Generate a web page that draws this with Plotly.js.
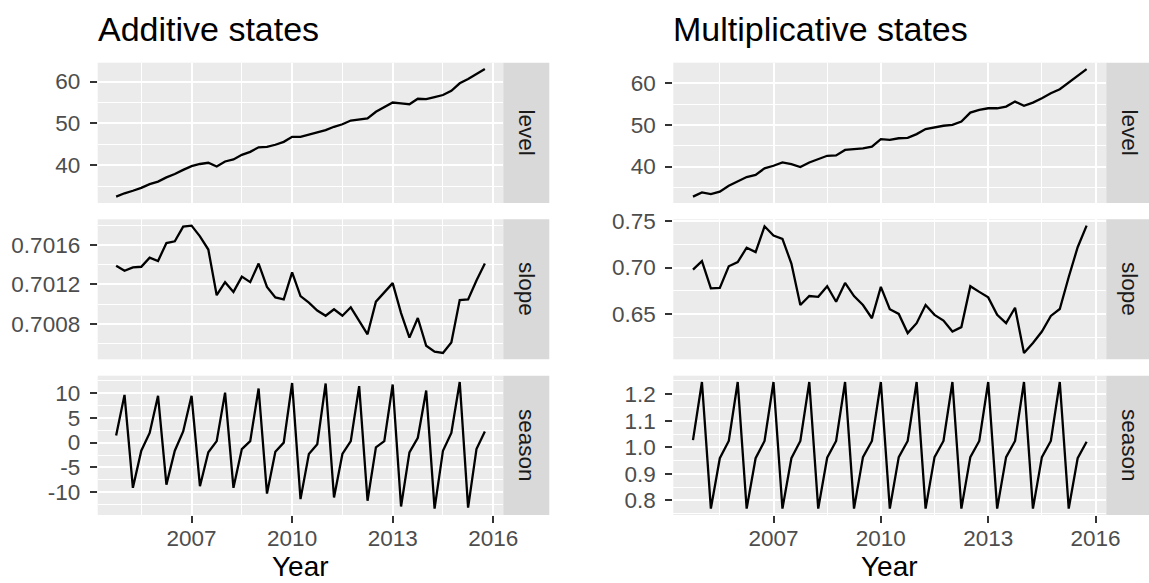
<!DOCTYPE html>
<html>
<head>
<meta charset="utf-8">
<script src="https://cdn.plot.ly/plotly-3.0.1.min.js"></script>
<style>html,body{margin:0;padding:0;background:#fff;}#chart{width:1149px;height:583px;}</style>
</head>
<body>
<div id="chart"></div>
<script>
// ---- data (quarterly states, first point = initial state) ----
const firstQuarter = 2004.75;
const nQuarters = 45;

const additiveLevel = [32.5,33.3,33.9,34.6,35.5,36.1,37.1,37.9,38.9,39.8,40.3,40.6,39.7,40.9,41.4,42.5,43.2,44.3,44.4,44.9,45.6,46.8,46.8,47.3,47.8,48.4,49.2,49.8,50.7,50.9,51.2,52.8,53.9,55.0,54.8,54.6,55.9,55.8,56.3,56.8,57.8,59.6,60.6,61.8,63.0];
const additiveSlope = [0.701389,0.701339,0.701372,0.701379,0.701471,0.701438,0.701620,0.701637,0.701786,0.701796,0.701687,0.701554,0.701091,0.701223,0.701124,0.701279,0.701223,0.701412,0.701174,0.701068,0.701048,0.701322,0.701081,0.701015,0.700935,0.700882,0.700948,0.700882,0.700968,0.700826,0.700694,0.701025,0.701114,0.701213,0.700909,0.700660,0.700859,0.700578,0.700518,0.700505,0.700611,0.701041,0.701048,0.701240,0.701412];
const additiveSeason = [1.42,9.61,-9.10,-1.63,1.95,9.42,-8.46,-1.63,2.26,9.42,-8.77,-1.95,0.31,10.06,-9.10,-1.31,0.31,10.9,-10.27,-1.83,0.0,12.0,-11.38,-2.28,-0.33,11.9,-11.05,-2.28,0.31,11.36,-11.7,-0.97,0.31,11.7,-12.87,-1.95,0.97,10.5,-13.3,-1.63,1.95,12.2,-13.1,-1.31,2.26];

const multiplicativeLevel = [32.8,33.8,33.4,34.0,35.4,36.4,37.5,38.0,39.6,40.2,41.0,40.6,39.9,41.0,41.8,42.6,42.7,44.0,44.2,44.4,44.8,46.6,46.4,46.8,46.9,47.8,49.0,49.4,49.8,50.0,50.8,52.95,53.6,54.0,54.0,54.4,55.6,54.6,55.35,56.4,57.6,58.56,60.1,61.8,63.4];
const multiplicativeSlope = [0.6979,0.7070,0.6777,0.6783,0.7014,0.7060,0.7213,0.7166,0.7443,0.7344,0.7309,0.7043,0.6599,0.6695,0.6687,0.6801,0.6634,0.6836,0.6695,0.6599,0.6457,0.6794,0.6553,0.6503,0.6298,0.6404,0.6599,0.6493,0.6432,0.6315,0.6362,0.6801,0.6740,0.6681,0.6493,0.6404,0.6570,0.6085,0.6191,0.6315,0.6482,0.6556,0.6900,0.7219,0.7450];
const multiplicativeSeason = [1.027,1.246,0.769,0.959,1.024,1.246,0.769,0.959,1.024,1.246,0.769,0.959,1.024,1.246,0.769,0.961,1.024,1.246,0.769,0.963,1.024,1.246,0.769,0.963,1.024,1.246,0.769,0.963,1.024,1.246,0.769,0.963,1.024,1.246,0.769,0.963,1.024,1.246,0.769,0.963,1.024,1.246,0.769,0.959,1.021];

// ---- tick values / labels ----
const yearTicks = [2007, 2010, 2013, 2016];
const yearLabels = ['2007', '2010', '2013', '2016'];
const yearMinor = [2005.5, 2008.5, 2011.5, 2014.5];

const addLevelTicks = [40, 50, 60];
const addLevelLabels = ['40', '50', '60'];
const addLevelMinor = [35, 45, 55];
const addSlopeTicks = [0.7008, 0.7012, 0.7016];
const addSlopeLabels = ['0.7008', '0.7012', '0.7016'];
const addSlopeMinor = [0.7004, 0.7006, 0.7010, 0.7014, 0.7018];
const addSeasonTicks = [-10, -5, 0, 5, 10];
const addSeasonLabels = ['-10', '-5', '0', '5', '10'];
const addSeasonMinor = [-12.5, -7.5, -2.5, 2.5, 7.5, 12.5];

const mulLevelTicks = [40, 50, 60];
const mulLevelLabels = ['40', '50', '60'];
const mulLevelMinor = [35, 45, 55];
const mulSlopeTicks = [0.65, 0.70, 0.75];
const mulSlopeLabels = ['0.65', '0.70', '0.75'];
const mulSlopeMinor = [0.625, 0.675, 0.725];
const mulSeasonTicks = [0.8, 0.9, 1.0, 1.1, 1.2];
const mulSeasonLabels = ['0.8', '0.9', '1.0', '1.1', '1.2'];
const mulSeasonMinor = [0.75, 0.85, 0.95, 1.05, 1.15, 1.25];

const stripNames = ['level', 'slope', 'season'];
const panelTitles = ['Additive states', 'Multiplicative states'];
const xAxisTitle = 'Year';

// ---- build ----
const quarters = [];
for (let i = 0; i < nQuarters; i++) quarters.push(firstQuarter + i * 0.25);

const W = 1149, H = 583;
const px = v => v / W;
const py = v => 1 - v / H;

function expand(arr, f) {
  const mn = Math.min(...arr), mx = Math.max(...arr), d = (mx - mn) * f;
  return [mn - d, mx + d];
}

const cols = [
  { x0: 97.7, x1: 503.3, strip1: 549.3 },
  { x0: 673.3, x1: 1106.3, strip1: 1152.3 }
];
const rows = [
  { t: 62.7, b: 203 },
  { t: 219.3, b: 359.3 },
  { t: 375.7, b: 515 }
];

const series = [
  [additiveLevel, addLevelTicks, addLevelLabels, addLevelMinor],
  [additiveSlope, addSlopeTicks, addSlopeLabels, addSlopeMinor],
  [additiveSeason, addSeasonTicks, addSeasonLabels, addSeasonMinor],
  [multiplicativeLevel, mulLevelTicks, mulLevelLabels, mulLevelMinor],
  [multiplicativeSlope, mulSlopeTicks, mulSlopeLabels, mulSlopeMinor],
  [multiplicativeSeason, mulSeasonTicks, mulSeasonLabels, mulSeasonMinor]
];

const FONT = 'Liberation Sans, Arial, Helvetica, sans-serif';
const tickFont = { family: FONT, size: 22.5, color: '#4d4d4d' };
const xRange = expand(quarters, 0.05);

const traces = [];
const layout = {
  width: W, height: H,
  margin: { l: 0, r: 0, t: 0, b: 0 },
  paper_bgcolor: '#ffffff',
  plot_bgcolor: '#ebebeb',
  showlegend: false,
  hovermode: false,
  shapes: [],
  annotations: []
};

series.forEach((s, k) => {
  const c = Math.floor(k / 3), r = k % 3;
  const n = k + 1;
  const xa = 'x' + (n === 1 ? '' : n), ya = 'y' + (n === 1 ? '' : n);
  const xKey = 'xaxis' + (n === 1 ? '' : n), yKey = 'yaxis' + (n === 1 ? '' : n);
  const col = cols[c], row = rows[r];
  traces.push({
    type: 'scatter', mode: 'lines', x: quarters, y: s[0],
    xaxis: xa, yaxis: ya,
    line: { color: '#000000', width: 2.3 }, hoverinfo: 'skip'
  });
  const bottom = r === 2;
  layout[xKey] = {
    domain: [px(col.x0), px(col.x1)], anchor: ya, range: xRange,
    tickmode: 'array', tickvals: yearTicks, ticktext: yearLabels,
    showticklabels: bottom, ticks: bottom ? 'outside' : '', ticklen: 7, tickwidth: 2, tickcolor: '#333333',
    ticklabelstandoff: -4,
    tickfont: tickFont,
    showgrid: true, gridcolor: '#ffffff', gridwidth: 2,
    minor: { tickmode: 'array', tickvals: yearMinor, showgrid: true, gridcolor: '#ffffff', gridwidth: 1, ticks: '' },
    zeroline: false, showline: false, fixedrange: true, automargin: false
  };
  layout[yKey] = {
    domain: [py(row.b), py(row.t)], anchor: xa, range: expand(s[0], 0.05),
    tickmode: 'array', tickvals: s[1], ticktext: s[2],
    ticks: 'outside', ticklen: 7, tickwidth: 2, tickcolor: '#333333',
    ticklabelstandoff: 5,
    tickfont: tickFont,
    showgrid: true, gridcolor: '#ffffff', gridwidth: 2,
    minor: { tickmode: 'array', tickvals: s[3], showgrid: true, gridcolor: '#ffffff', gridwidth: 1, ticks: '' },
    zeroline: false, showline: false, fixedrange: true, automargin: false
  };
  // facet strip
  layout.shapes.push({
    type: 'rect', xref: 'paper', yref: 'paper',
    x0: px(col.x1), x1: px(col.strip1), y0: py(row.b), y1: py(row.t),
    fillcolor: '#d9d9d9', line: { width: 0 }, layer: 'below'
  });
  layout.annotations.push({
    xref: 'paper', yref: 'paper', x: px((col.x1 + col.strip1) / 2), y: py((row.t + row.b) / 2),
    xanchor: 'center', yanchor: 'middle', textangle: 90, showarrow: false,
    text: stripNames[r], font: { family: FONT, size: 22.5, color: '#1a1a1a' }
  });
});

panelTitles.forEach((t, c) => {
  layout.annotations.push({
    xref: 'paper', yref: 'paper', x: px(cols[c].x0 - 2), y: py(28.5),
    xanchor: 'left', yanchor: 'middle', showarrow: false,
    text: t, font: { family: FONT, size: 34, color: '#000000' }
  });
  layout.annotations.push({
    xref: 'paper', yref: 'paper', x: px((cols[c].x0 + cols[c].x1) / 2), y: py(566),
    xanchor: 'center', yanchor: 'middle', showarrow: false,
    text: xAxisTitle, font: { family: FONT, size: 28, color: '#000000' }
  });
});

Plotly.newPlot('chart', traces, layout, { staticPlot: true, displayModeBar: false });
</script>
</body>
</html>
